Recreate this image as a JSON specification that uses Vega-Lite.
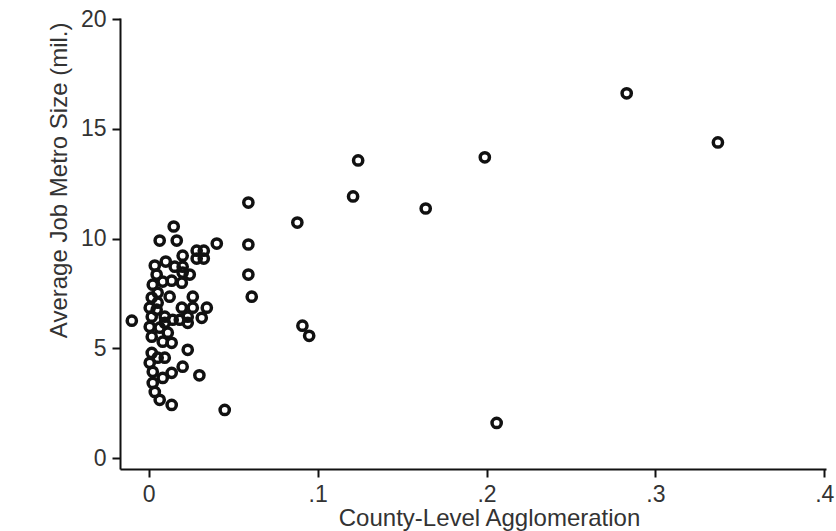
{
  "$schema": "https://vega.github.io/schema/vega-lite/v6.json",
  "width": 706,
  "height": 451,
  "autosize": {"type": "none"},
  "padding": {"left": 120, "top": 18, "right": 10, "bottom": 62},
  "background": "white",
  "data": {
    "values": [
      {"agglom": -0.010, "metro": 6.26},
      {"agglom": 0.059, "metro": 11.64},
      {"agglom": 0.059, "metro": 9.73},
      {"agglom": 0.059, "metro": 8.36},
      {"agglom": 0.061, "metro": 7.35},
      {"agglom": 0.088, "metro": 10.73},
      {"agglom": 0.091, "metro": 6.03},
      {"agglom": 0.095, "metro": 5.57},
      {"agglom": 0.121, "metro": 11.92},
      {"agglom": 0.124, "metro": 13.56},
      {"agglom": 0.164, "metro": 11.37},
      {"agglom": 0.199, "metro": 13.70},
      {"agglom": 0.206, "metro": 1.60},
      {"agglom": 0.283, "metro": 16.62},
      {"agglom": 0.337, "metro": 14.38},
      {"agglom": 0.045, "metro": 2.19},
      {"agglom": 0.0403, "metro": 9.77},
      {"agglom": 0.030, "metro": 3.77},
      {"agglom": 0.0148, "metro": 10.55},
      {"agglom": 0.0065, "metro": 9.91},
      {"agglom": 0.0166, "metro": 9.91},
      {"agglom": 0.0201, "metro": 9.22},
      {"agglom": 0.0284, "metro": 9.45},
      {"agglom": 0.0326, "metro": 9.45},
      {"agglom": 0.0284, "metro": 9.09},
      {"agglom": 0.0326, "metro": 9.09},
      {"agglom": 0.0154, "metro": 8.72},
      {"agglom": 0.0201, "metro": 8.72},
      {"agglom": 0.0201, "metro": 8.45},
      {"agglom": 0.0243, "metro": 8.36},
      {"agglom": 0.0036, "metro": 8.77},
      {"agglom": 0.0101, "metro": 8.95},
      {"agglom": 0.0047, "metro": 8.36},
      {"agglom": 0.0083, "metro": 8.04},
      {"agglom": 0.0136, "metro": 8.08},
      {"agglom": 0.0196, "metro": 7.99},
      {"agglom": 0.0024, "metro": 7.90},
      {"agglom": 0.0053, "metro": 7.53},
      {"agglom": 0.0124, "metro": 7.35},
      {"agglom": 0.0018, "metro": 7.31},
      {"agglom": 0.0053, "metro": 7.08},
      {"agglom": 0.0006, "metro": 6.85},
      {"agglom": 0.0261, "metro": 7.35},
      {"agglom": 0.0196, "metro": 6.85},
      {"agglom": 0.0261, "metro": 6.85},
      {"agglom": 0.0344, "metro": 6.85},
      {"agglom": 0.0047, "metro": 6.76},
      {"agglom": 0.0018, "metro": 6.44},
      {"agglom": 0.0095, "metro": 6.44},
      {"agglom": 0.0231, "metro": 6.44},
      {"agglom": 0.0314, "metro": 6.39},
      {"agglom": 0.0142, "metro": 6.30},
      {"agglom": 0.0184, "metro": 6.30},
      {"agglom": 0.0006, "metro": 5.98},
      {"agglom": 0.0095, "metro": 6.16},
      {"agglom": 0.0065, "metro": 5.94},
      {"agglom": 0.0231, "metro": 6.16},
      {"agglom": 0.0113, "metro": 5.71},
      {"agglom": 0.0018, "metro": 5.53},
      {"agglom": 0.0083, "metro": 5.30},
      {"agglom": 0.0136, "metro": 5.25},
      {"agglom": 0.0231, "metro": 4.93},
      {"agglom": 0.0018, "metro": 4.79},
      {"agglom": 0.0053, "metro": 4.57},
      {"agglom": 0.0095, "metro": 4.57},
      {"agglom": 0.0006, "metro": 4.34},
      {"agglom": 0.0201, "metro": 4.16},
      {"agglom": 0.0024, "metro": 3.93},
      {"agglom": 0.0136, "metro": 3.88},
      {"agglom": 0.0083, "metro": 3.65},
      {"agglom": 0.0024, "metro": 3.42},
      {"agglom": 0.0036, "metro": 3.01},
      {"agglom": 0.0065, "metro": 2.65},
      {"agglom": 0.0136, "metro": 2.42}
    ]
  },
  "mark": {"type": "point", "shape": "circle", "filled": false, "stroke": "#111111", "strokeWidth": 3.5, "size": 85, "opacity": 1},
  "encoding": {
    "x": {
      "field": "agglom",
      "type": "quantitative",
      "title": "County-Level Agglomeration",
      "scale": {"domain": [-0.017, 0.401], "nice": false, "zero": false},
      "axis": {
        "values": [0, 0.1, 0.2, 0.3, 0.4],
        "labelExpr": "datum.value == 0 ? '0' : '.' + round(datum.value * 10)",
        "titlePadding": 0,
        "titleX": 369
      }
    },
    "y": {
      "field": "metro",
      "type": "quantitative",
      "title": "Average Job Metro Size (mil.)",
      "scale": {"domain": [-0.5, 20.05], "nice": false, "zero": false},
      "axis": {
        "values": [0, 5, 10, 15, 20],
        "titlePadding": 9,
        "titleAnchor": "end",
        "titleY": 4
      }
    }
  },
  "config": {
    "view": {"stroke": null},
    "axis": {
      "grid": false,
      "domainColor": "#111111",
      "domainWidth": 2,
      "tickColor": "#111111",
      "tickWidth": 2,
      "tickSize": 8,
      "labelFont": "Liberation Sans",
      "labelFontSize": 23,
      "labelColor": "#333333",
      "labelPadding": 6,
      "titleFont": "Liberation Sans",
      "titleFontSize": 24,
      "titleFontWeight": "normal",
      "titleColor": "#333333"
    }
  }
}
